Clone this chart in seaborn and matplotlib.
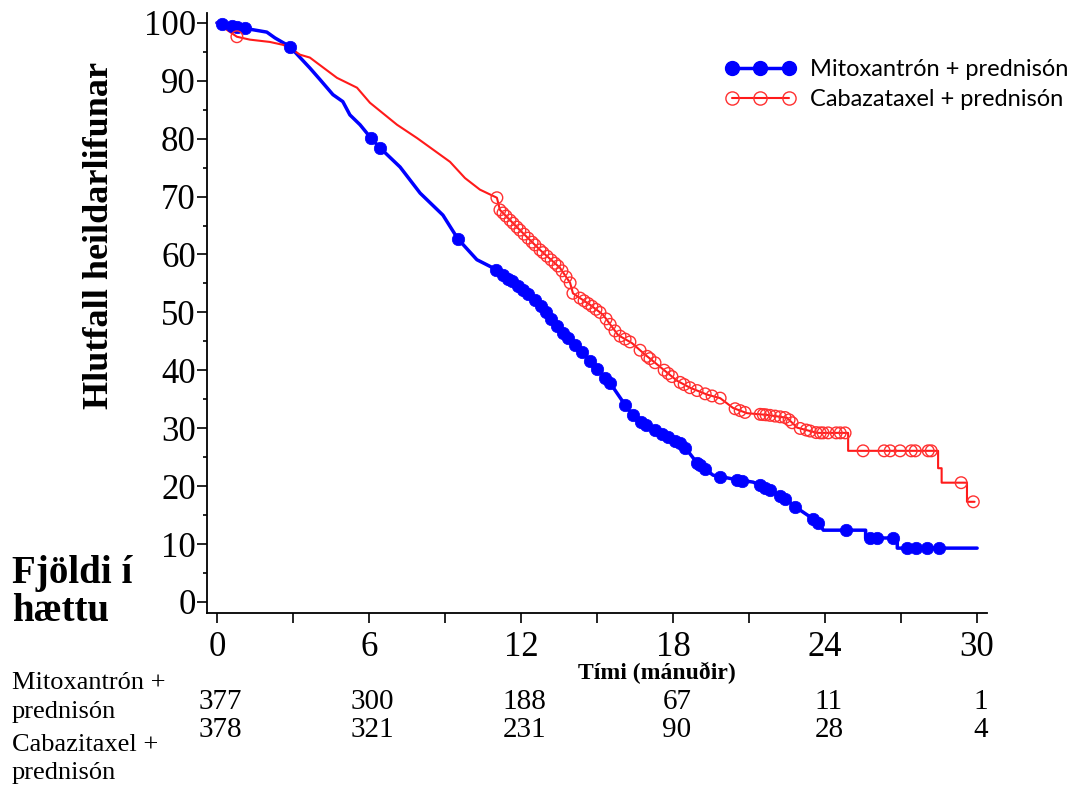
import numpy as np
import pandas as pd
import seaborn as sns
from matplotlib import pyplot as plt
from matplotlib.lines import Line2D
import matplotlib.transforms as mtransforms

# Kaplan-Meier curves: (month, % alive)
mito_t = [0, 1.03, 1.97, 2.29, 2.88, 3.67, 4.07, 4.58, 4.97, 5.25, 5.65, 6.08, 6.44,
          7.23, 8.02, 8.92, 9.51, 10.26, 10.89, 11.17, 11.96, 12.75, 13.54, 14.33,
          15.12, 15.52, 16.19, 16.58, 17.49, 18.40, 18.95, 19.58, 20.53, 21.16, 21.56,
          22.35, 22.90, 23.41, 23.81, 23.93, 25.6, 25.6, 26.85, 26.85, 30.0]
mito_s = [100, 99.1, 98.4, 97.4, 95.9, 92.2, 90.2, 87.6, 86.4, 84.1, 82.4, 80.1, 78.4,
          75.1, 70.6, 66.8, 62.7, 59.1, 57.7, 56.8, 54.4, 51.3, 47.0, 43.5,
          39.7, 37.8, 33.5, 31.4, 29.2, 27.1, 24.0, 21.9, 21.1, 20.7, 19.9,
          18.1, 16.2, 14.7, 13.3, 12.4, 12.4, 11.05, 11.05, 9.3, 9.3]

caba_t = [0, 0.39, 0.79, 1.30, 2.09, 2.61, 2.88, 3.28, 3.67, 4.74, 5.53, 6.04, 7.11,
          7.90, 9.20, 9.79, 10.38, 11.05, 11.17, 11.96, 12.75, 13.54, 13.94, 14.05,
          14.73, 15.24, 15.83, 16.38, 16.90, 17.49, 18.16, 18.67, 19.35, 19.86, 20.37,
          20.92, 21.71, 22.50, 22.90, 23.69, 24.91, 24.91, 28.46, 28.46, 28.6, 28.6,
          29.6, 29.6, 29.9]
caba_s = [100, 98.8, 97.6, 97.1, 96.7, 96.2, 95.7, 94.5, 94.0, 90.5, 88.8, 86.2, 82.4,
          80.1, 76.0, 73.2, 71.2, 69.8, 67.7, 64.2, 60.8, 57.7, 55.1, 53.3,
          51.3, 49.6, 46.1, 44.7, 42.7, 40.6, 38.2, 37.0, 35.8, 35.2, 33.5,
          32.6, 32.3, 31.8, 30.1, 29.2, 29.2, 26.1, 26.1, 23.1, 23.1, 20.6,
          20.6, 17.3, 17.3]

# censoring times (months)
mito_cens = [0.20, 0.59, 0.79, 1.11, 2.88, 6.08, 6.44, 9.51, 11.01, 11.29, 11.49, 11.65,
             11.88, 12.08, 12.28, 12.55, 12.79, 12.99, 13.19, 13.42, 13.66, 13.86, 14.13,
             14.41, 14.73, 15.00, 15.32, 15.52, 16.11, 16.42, 16.74, 16.94, 17.29, 17.57,
             17.81, 18.08, 18.28, 18.48, 18.95, 19.07, 19.27, 19.86, 20.53, 20.73, 21.44,
             21.63, 21.83, 22.23, 22.42, 22.82, 23.53, 23.73, 24.83, 25.78, 26.06, 26.69,
             27.24, 27.60, 28.03, 28.50]
caba_cens = [0.79, 11.05, 11.17, 11.29, 11.41, 11.57, 11.69, 11.84, 11.96, 12.12, 12.28,
             12.44, 12.55, 12.75, 12.87, 13.03, 13.19, 13.34, 13.46, 13.62, 13.78, 13.94,
             14.05, 14.33, 14.49, 14.65, 14.80, 14.96, 15.12, 15.36, 15.52, 15.71, 15.91,
             16.11, 16.30, 16.70, 16.98, 17.09, 17.29, 17.65, 17.81, 17.96, 18.28, 18.44,
             18.67, 18.95, 19.27, 19.54, 19.86, 20.45, 20.65, 20.84, 21.44, 21.56, 21.67,
             21.83, 22.03, 22.23, 22.42, 22.58, 22.70, 23.02, 23.26, 23.41, 23.65, 23.81,
             23.92, 24.12, 24.44, 24.60, 24.79, 25.50, 26.33, 26.57, 26.96, 27.40, 27.56,
             28.07, 28.19, 29.37, 29.85]

risk_times = [0, 6, 12, 18, 24, 30]
risk_mito = [377, 300, 188, 67, 11, 1]
risk_caba = [378, 321, 231, 90, 28, 4]

mito_name = 'Mitoxantrón + prednisón'
caba_name = 'Cabazataxel + prednisón'

sns.set_style('ticks')
plt.rcParams['font.family'] = ['Liberation Serif', 'DejaVu Serif']
plt.rcParams['text.color'] = 'black'
plt.rcParams['axes.edgecolor'] = 'black'

fig = plt.figure(figsize=(10.82, 7.87), dpi=100)
ax = fig.add_axes([0.1913, 0.2211, 0.7209, 0.7624])

mito = pd.DataFrame({'t': mito_t, 's': mito_s})
caba = pd.DataFrame({'t': caba_t, 's': caba_s})
sns.lineplot(data=mito, x='t', y='s', estimator=None, sort=False, color='#0000ff',
             lw=2.5, ax=ax)
sns.lineplot(data=caba, x='t', y='s', estimator=None, sort=False, color='#ff1a1a',
             lw=1.5, ax=ax)

mc = pd.DataFrame({'t': mito_cens, 's': np.interp(mito_cens, mito_t, mito_s)})
cc = pd.DataFrame({'t': caba_cens, 's': np.interp(caba_cens, caba_t, caba_s)})
sns.scatterplot(data=mc, x='t', y='s', color='#0000ff', s=80, edgecolor='#0000ff',
                linewidth=0.5, ax=ax, zorder=3)
sns.scatterplot(data=cc, x='t', y='s', facecolor='none', edgecolor='#ff3030', s=70,
                linewidth=1.0, ax=ax, zorder=3)

ax.set_xlim(-0.39, 30.39)
ax.set_ylim(-1.9, 101.7)
ax.set_xticks(risk_times)
ax.set_xticks(np.arange(3, 30, 6), minor=True)
ax.set_yticks(np.arange(0, 101, 10))
ax.set_yticks(np.arange(5, 100, 10), minor=True)
ax.tick_params(axis='both', which='major', labelsize=25, length=7, width=1.2,
               direction='out', colors='black')
ax.tick_params(axis='x', which='major', pad=6)
ax.tick_params(axis='y', which='major', pad=1)
ax.tick_params(axis='x', which='minor', length=7, width=1.2, colors='black')
ax.tick_params(axis='y', which='minor', length=3, width=1.2, colors='black')
ax.set_xlabel('')
ax.set_ylabel('')
sns.despine(ax=ax)
for sp in ax.spines.values():
    sp.set_linewidth(1.3)

fig.text(100 / 1082, 1 - 235 / 787, 'Hlutfall heildarlifunar', rotation=90,
         fontsize=26, fontweight='bold', ha='center', va='center')
fig.text(12 / 1082, 1 - 555 / 787, 'Fjöldi í\nhættu', fontsize=28, fontweight='bold',
         ha='left', va='top', linespacing=1.05)
fig.text(657 / 1082, 1 - 673 / 787, 'Tími (mánuðir)', fontsize=17, fontweight='bold',
         ha='center', va='center')

for y, s in [(683, 'Mitoxantrón +'), (712, 'prednisón'),
             (745, 'Cabazitaxel +'), (773, 'prednisón')]:
    fig.text(12 / 1082, 1 - y / 787, s, fontsize=19, ha='left', va='center')

trans = mtransforms.blended_transform_factory(ax.transData, fig.transFigure)
for t, a, b in zip(risk_times, risk_mito, risk_caba):
    ax.text(t + 0.15, 1 - 702 / 787, str(a), transform=trans, fontsize=21,
            ha='center', va='center')
    ax.text(t + 0.15, 1 - 730 / 787, str(b), transform=trans, fontsize=21,
            ha='center', va='center')

handles = [Line2D([], [], color='#0000ff', lw=2.5, marker='o', ms=10,
                  markerfacecolor='#0000ff'),
           Line2D([], [], color='#ff1a1a', lw=1.5, marker='o', ms=9.5,
                  markerfacecolor='none', markeredgecolor='#ff3030')]
fig.legend(handles, [mito_name, caba_name], loc='upper right',
           bbox_to_anchor=(1080 / 1082, 1 - 47 / 787), frameon=False, numpoints=3,
           handlelength=3.0, handletextpad=0.6, labelspacing=0.4, borderpad=0,
           prop={'family': 'Lato', 'size': 17})

fig.savefig('out.png', dpi=100)
